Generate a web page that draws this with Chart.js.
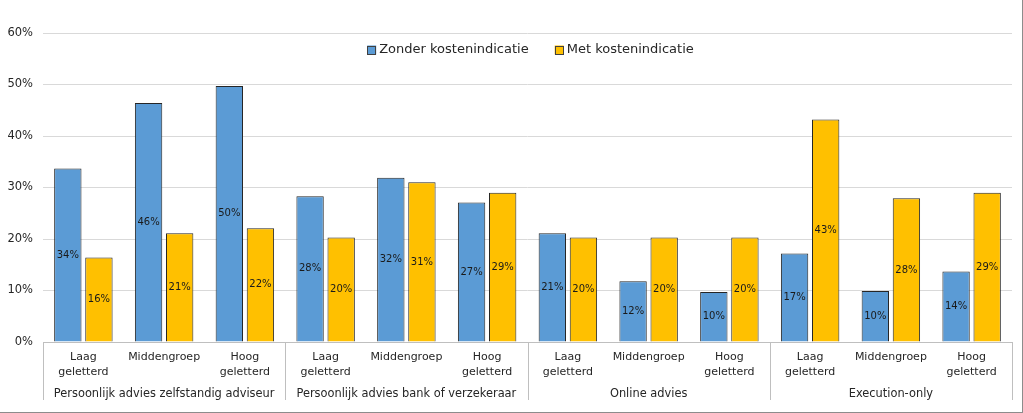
<!DOCTYPE html>
<html>
<head>
<meta charset="utf-8">
<script src="https://cdn.jsdelivr.net/npm/chart.js@4.4.1/dist/chart.umd.min.js"></script>
<style>
  html, body { margin: 0; padding: 0; background: #fff; }
  #wrap { width: 1022px; height: 412px; border-right: 1px solid #8c8c8c; border-bottom: 1px solid #8c8c8c; position: relative; }
  canvas { display: block; }
</style>
</head>
<body>
<div id="wrap"><canvas id="barChart" width="1022" height="412"></canvas></div>
<script>
const groups = ["Persoonlijk advies zelfstandig adviseur", "Persoonlijk advies bank of verzekeraar", "Online advies", "Execution-only"];
const levels = [["Laag", "geletterd"], "Middengroep", ["Hoog", "geletterd"]];
const zonder = [33.7, 46.4, 49.7, 28.3, 31.9, 27.1, 21.1, 11.8, 9.7, 17.2, 9.9, 13.7];
const met = [16.4, 21.1, 22.1, 20.3, 31.0, 29.0, 20.3, 20.3, 20.3, 43.2, 27.9, 29.0];
const seriesNames = ["Zonder kostenindicatie", "Met kostenindicatie"];
const yTicks = [0, 10, 20, 30, 40, 50, 60];

const FONT = "'DejaVu Sans', Verdana, sans-serif";
const TEXT = "#262626";

let labels = [];
groups.forEach(() => levels.forEach(l => labels.push(l)));

// data labels in the middle of each bar
const barLabels = {
  id: "barLabels",
  afterDatasetsDraw(chart) {
    const ctx = chart.ctx;
    ctx.save();
    ctx.font = "10px " + FONT;
    ctx.fillStyle = "#1a1a1a";
    ctx.textAlign = "center";
    ctx.textBaseline = "middle";
    chart.data.datasets.forEach((ds, i) => {
      chart.getDatasetMeta(i).data.forEach((bar, j) => {
        ctx.fillText(Math.round(ds.data[j]) + "%", bar.x, (bar.y + bar.base) / 2);
      });
    });
    ctx.restore();
  }
};

// group labels and separators under the category axis
const groupAxis = {
  id: "groupAxis",
  afterDraw(chart) {
    const ctx = chart.ctx;
    const x = chart.scales.x;
    const bottom = chart.chartArea.bottom;
    const step = x.getPixelForValue(1) - x.getPixelForValue(0);
    ctx.save();
    ctx.strokeStyle = "#bfbfbf";
    ctx.lineWidth = 1;
    ctx.font = "11.4px " + FONT;
    ctx.fillStyle = TEXT;
    ctx.textAlign = "center";
    ctx.textBaseline = "middle";
    groups.forEach((g, i) => {
      const left = x.getPixelForValue(i * 3) - step / 2;
      const right = x.getPixelForValue(i * 3 + 2) + step / 2;
      ctx.fillText(g, (left + right) / 2, bottom + 52);
    });
    for (let i = 0; i <= groups.length; i++) {
      const px = Math.round(x.getPixelForValue(i * 3) - step / 2) + 0.5;
      ctx.beginPath();
      ctx.moveTo(px, bottom);
      ctx.lineTo(px, bottom + 58);
      ctx.stroke();
    }
    ctx.restore();
  }
};

// legend drawn inside the plot area
const innerLegend = {
  id: "innerLegend",
  afterDraw(chart) {
    const ctx = chart.ctx;
    const area = chart.chartArea;
    ctx.save();
    ctx.font = "13px " + FONT;
    ctx.textBaseline = "middle";
    const box = 9, gapBox = 3, gapItem = 26;
    const widths = chart.data.datasets.map(ds => ctx.measureText(ds.label).width);
    let total = widths.reduce((a, w) => a + box + gapBox + w, 0) + gapItem * (widths.length - 1);
    let px = (area.left + area.right) / 2 - total / 2 + 3;
    const py = 50;
    chart.data.datasets.forEach((ds, i) => {
      ctx.fillStyle = ds.backgroundColor;
      ctx.fillRect(px, py - box / 2, box, box);
      ctx.strokeStyle = "#404040";
      ctx.lineWidth = 1;
      ctx.strokeRect(Math.round(px) + 0.5, Math.round(py - box / 2) + 0.5, box - 1, box - 1);
      ctx.fillStyle = TEXT;
      ctx.textAlign = "left";
      ctx.fillText(ds.label, px + box + gapBox, py);
      px += box + gapBox + widths[i] + gapItem;
    });
    ctx.restore();
  }
};

const ctx = document.getElementById("barChart").getContext("2d");
new Chart(ctx, {
  type: "bar",
  data: {
    labels: labels,
    datasets: [
      {
        label: seriesNames[0],
        data: zonder,
        backgroundColor: "#5b9bd5",
        borderColor: "#262626",
        borderWidth: 1,
        categoryPercentage: 0.77,
        barPercentage: 0.88
      },
      {
        label: seriesNames[1],
        data: met,
        backgroundColor: "#ffc000",
        borderColor: "#262626",
        borderWidth: 1,
        categoryPercentage: 0.77,
        barPercentage: 0.88
      }
    ]
  },
  options: {
    responsive: false,
    animation: false,
    layout: { padding: { top: 33, right: 10, left: 0, bottom: 0 } },
    plugins: {
      legend: { display: false },
      tooltip: { enabled: false }
    },
    scales: {
      x: {
        grid: { display: false, drawTicks: false },
        border: { color: "#bfbfbf" },
        ticks: {
          autoSkip: false,
          maxRotation: 0,
          padding: 8,
          color: TEXT,
          font: { family: FONT, size: 11, lineHeight: 1.35 }
        },
        afterFit(scale) { scale.height = 70; }
      },
      y: {
        min: 0,
        max: 60,
        afterBuildTicks(scale) { scale.ticks = yTicks.map(v => ({ value: v })); },
        grid: { color: "#d9d9d9", drawTicks: false },
        border: { display: false },
        ticks: {
          padding: 10,
          color: TEXT,
          font: { family: FONT, size: 11.5 },
          callback: v => v + "%"
        },
        afterFit(scale) { scale.width = 43; }
      }
    }
  },
  plugins: [barLabels, groupAxis, innerLegend]
});
</script>
</body>
</html>
